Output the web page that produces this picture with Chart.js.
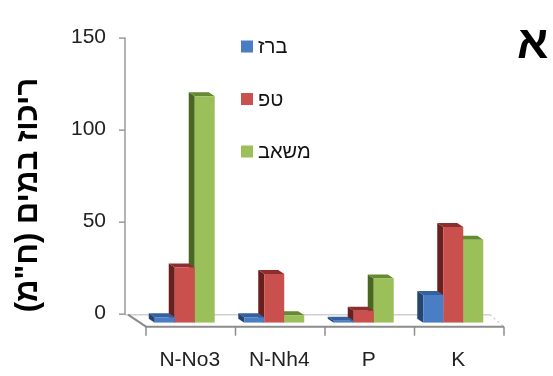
<!DOCTYPE html>
<html>
<head>
<meta charset="utf-8">
<script src="https://cdn.jsdelivr.net/npm/chart.js@4.4.0/dist/chart.umd.min.js"></script>
<style>
  html, body { margin: 0; padding: 0; background: #fff; }
  #wrap { width: 553px; height: 376px; position: relative; }
</style>
</head>
<body>
<div id="wrap"><canvas id="nutrientChart" width="553" height="376"></canvas></div>
<script>
// categories / series
const categories = ['N-No3', 'N-Nh4', 'P', 'K'];
const seriesNames = ['ברז', 'טפ', 'משאב'];
const tapValues = [3, 3, 1, 15];
const dripValues = [30, 26.5, 6.5, 52];
const pumpValues = [123, 4, 24, 45];
const yTicks = [0, 50, 100, 150];
const yTitle = 'ריכוז במים (ח"מ)';
const panelLetter = 'א';

const frontColors = ['#4a7ec4', '#c9504d', '#9bbf59'];
const sideColors = ['#24456f', '#6a1f1f', '#4a6621'];
const topColors = ['#3560a0', '#8c2e2e', '#668a32'];

const DX = 6, DY = 4; // fake depth of the columns

// draws the left side + top face of each column before its front face
const depthBars = {
  id: 'depthBars',
  beforeDatasetDraw(chart, args) {
    const ctx = chart.ctx;
    const i = args.index;
    ctx.save();
    args.meta.data.forEach(bar => {
      const p = bar.getProps(['x', 'y', 'base', 'width'], true);
      const l = p.x - p.width / 2, r = p.x + p.width / 2;
      ctx.fillStyle = sideColors[i];
      ctx.beginPath();
      ctx.moveTo(l, p.y);
      ctx.lineTo(l - DX, p.y - DY);
      ctx.lineTo(l - DX, p.base - DY);
      ctx.lineTo(l, p.base);
      ctx.closePath();
      ctx.fill();
      ctx.fillStyle = topColors[i];
      ctx.beginPath();
      ctx.moveTo(l, p.y);
      ctx.lineTo(l - DX, p.y - DY);
      ctx.lineTo(r - DX, p.y - DY);
      ctx.lineTo(r, p.y);
      ctx.closePath();
      ctx.fill();
    });
    ctx.restore();
  }
};

// back wall axis, floor, legend and texts
const decor = {
  id: 'decor',
  beforeDatasetsDraw(chart) {
    const ctx = chart.ctx;
    const xs = chart.scales.x, ys = chart.scales.y;
    const a = chart.chartArea;
    const backX = a.left - 15;
    const backY = ys.getPixelForValue(0) - 8;
    const topY = ys.getPixelForValue(150) - 9;
    const frontY = ys.getPixelForValue(0) + 4;
    const shift = 6;
    ctx.save();
    // floor back edge
    ctx.strokeStyle = '#d0d0d0';
    ctx.lineWidth = 1.5;
    ctx.beginPath();
    ctx.moveTo(backX, backY);
    ctx.lineTo(a.right - 8, backY);
    ctx.stroke();
    ctx.setLineDash([2, 3]);
    ctx.beginPath();
    ctx.moveTo(a.right - 8, backY);
    ctx.lineTo(a.right + shift, frontY);
    ctx.stroke();
    ctx.setLineDash([]);
    // y axis on back wall
    ctx.strokeStyle = '#9a9a9a';
    ctx.lineWidth = 1.5;
    ctx.beginPath();
    ctx.moveTo(backX, topY);
    ctx.lineTo(backX, backY);
    ctx.stroke();
    yTicks.forEach(v => {
      const ty = ys.getPixelForValue(v) - 8.5;
      ctx.beginPath();
      ctx.moveTo(backX - 6, ty);
      ctx.lineTo(backX, ty);
      ctx.stroke();
    });
    // left floor diagonal and front edge
    ctx.strokeStyle = '#8c8c8c';
    ctx.lineWidth = 2;
    ctx.beginPath();
    ctx.moveTo(backX + 3, backY);
    ctx.lineTo(a.left + shift, frontY);
    ctx.lineTo(a.right + shift, frontY);
    ctx.stroke();
    ctx.lineWidth = 1.5;
    for (let k = 0; k <= categories.length; k++) {
      const tx = (k < categories.length ? xs.getPixelForValue(k) - (xs.getPixelForValue(1) - xs.getPixelForValue(0)) / 2 : a.right) + shift;
      ctx.beginPath();
      ctx.moveTo(tx, frontY);
      ctx.lineTo(tx, frontY + 9);
      ctx.stroke();
    }
    ctx.restore();
  },
  afterDraw(chart) {
    const ctx = chart.ctx;
    ctx.save();
    // legend
    ctx.font = '20px "Liberation Sans", "DejaVu Sans", sans-serif';
    ctx.textBaseline = 'middle';
    ctx.textAlign = 'left';
    chart.data.datasets.forEach((ds, i) => {
      const cy = 46.5 + i * 52.5;
      ctx.fillStyle = frontColors[i];
      ctx.fillRect(241, cy - 6, 12, 12);
      ctx.fillStyle = '#111';
      ctx.fillText(ds.label, 258, cy + 1);
    });
    // y title, rotated
    ctx.translate(28, 195);
    ctx.rotate(-Math.PI / 2);
    ctx.font = 'bold 31px "Liberation Sans", "DejaVu Sans", sans-serif';
    ctx.textAlign = 'center';
    ctx.fillStyle = '#000';
    ctx.fillText(yTitle, 0, 0);
    ctx.setTransform(1, 0, 0, 1, 0, 0);
    // panel letter
    ctx.font = 'bold 46px "Liberation Sans", "DejaVu Sans", sans-serif';
    ctx.textAlign = 'left';
    ctx.textBaseline = 'alphabetic';
    ctx.fillText(panelLetter, 517, 58);
    ctx.restore();
  }
};

const data = {
  labels: categories,
  datasets: [tapValues, dripValues, pumpValues].map((vals, i) => ({
    label: seriesNames[i],
    data: vals,
    backgroundColor: frontColors[i],
    borderWidth: 0,
    categoryPercentage: 0.67,
    barPercentage: 1
  }))
};

const config = {
  type: 'bar',
  data: data,
  options: {
    responsive: false,
    animation: false,
    layout: { padding: { top: 30, right: 55, left: 0, bottom: 0 } },
    plugins: { legend: { display: false }, tooltip: { enabled: false } },
    scales: {
      x: {
        grid: { display: false, drawTicks: false },
        border: { display: false },
        ticks: {
          labelOffset: 5,
          padding: 25,
          color: '#222',
          font: { family: '"Liberation Sans Narrow", "Liberation Sans", sans-serif', size: 21 }
        },
        afterFit(scale) { scale.height = 53.3; }
      },
      y: {
        min: 0,
        max: 150,
        grid: { display: false, drawTicks: false },
        border: { display: false },
        afterBuildTicks(scale) { scale.ticks = yTicks.map(v => ({ value: v })); },
        ticks: {
          labelOffset: -9,
          padding: 34,
          color: '#222',
          font: { family: '"Liberation Sans Narrow", "Liberation Sans", sans-serif', size: 21 }
        },
        afterFit(scale) { scale.width = 140; }
      }
    }
  },
  plugins: [depthBars, decor]
};

const nutrientChart = new Chart(document.getElementById('nutrientChart'), config);
</script>
</body>
</html>
